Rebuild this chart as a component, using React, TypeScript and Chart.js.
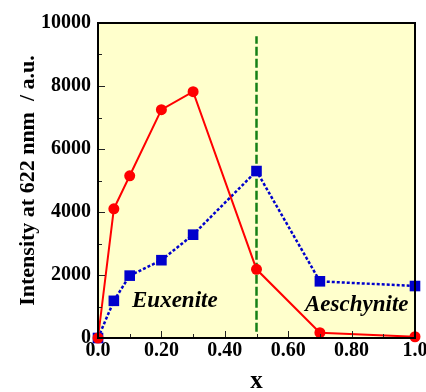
import React, { useEffect, useRef } from "react";
import { Chart, registerables } from "chart.js";

Chart.register(...registerables);

// Composition x and emission intensity at 622 nm
const xValues = [0, 0.05, 0.1, 0.2, 0.3, 0.5, 0.7, 1.0];
const euxeniteSeries = [0, 4100, 5150, 7250, 7820, 2180, 170, 40];
const aeschyniteSeries = [0, 1180, 1980, 2470, 3280, 5300, 1800, 1650];
const boundaryX = 0.5;
const boundaryRange = [200, 9580];
const xTickStep = 0.2;
const yTickStep = 2000;

const SERIF = "'Liberation Serif', 'Times New Roman', serif";

const framePlugin = {
  id: "frame",
  beforeDraw(chart: any) {
    const { ctx, chartArea: a } = chart;
    ctx.save();
    ctx.fillStyle = "#ffffff";
    ctx.fillRect(0, 0, chart.width, chart.height);
    ctx.fillStyle = "#ffffcc";
    ctx.fillRect(a.left, a.top, a.right - a.left, a.bottom - a.top);
    ctx.restore();
  },
  beforeDatasetsDraw(chart: any) {
    const { ctx, scales } = chart;
    const xs = scales.x;
    const ys = scales.y;
    ctx.save();
    // boundary line between the two phases
    ctx.strokeStyle = "#168016";
    ctx.lineWidth = 2.5;
    ctx.setLineDash([9, 3]);
    ctx.beginPath();
    const bx = xs.getPixelForValue(boundaryX);
    ctx.moveTo(bx, ys.getPixelForValue(boundaryRange[0]));
    ctx.lineTo(bx, ys.getPixelForValue(boundaryRange[1]));
    ctx.stroke();
    ctx.restore();
  },
  afterDatasetsDraw(chart: any) {
    const { ctx, chartArea: a, scales } = chart;
    const xs = scales.x;
    const ys = scales.y;
    ctx.save();
    ctx.strokeStyle = "#222222";
    ctx.lineWidth = 1;
    ctx.beginPath();
    // inward ticks on the left axis
    for (let v = 0; v <= 10000; v += 1000) {
      const y = Math.round(ys.getPixelForValue(v)) + 0.5;
      const len = v % 2000 === 0 ? 7 : 4;
      ctx.moveTo(a.left, y);
      ctx.lineTo(a.left + len, y);
    }
    // inward ticks on the bottom axis
    for (let i = 0; i <= 10; i++) {
      const x = Math.round(xs.getPixelForValue(i / 10)) + 0.5;
      const len = i % 2 === 0 ? 7 : 4;
      ctx.moveTo(x, a.bottom);
      ctx.lineTo(x, a.bottom - len);
    }
    ctx.stroke();

    ctx.lineWidth = 2;
    ctx.strokeStyle = "#000000";
    ctx.strokeRect(a.left, a.top, a.right - a.left, a.bottom - a.top);

    // phase labels
    ctx.fillStyle = "#000000";
    ctx.font = `italic bold 23px ${SERIF}`;
    ctx.textAlign = "left";
    ctx.textBaseline = "middle";
    ctx.fillText("Euxenite", 132, 301);
    ctx.fillText("Aeschynite", 305, 305);

    // axis titles
    ctx.font = `bold 22px ${SERIF}`;
    ctx.textAlign = "center";
    ctx.save();
    ctx.translate(28, (a.top + a.bottom) / 2);
    ctx.rotate(-Math.PI / 2);
    ctx.fillText("Intensity at 622 nnm  / a.u.", 0, 0);
    ctx.restore();
    ctx.font = `bold 25px ${SERIF}`;
    ctx.fillText("x", (a.left + a.right) / 2, 382);
    ctx.restore();
  },
};

export default function App() {
  const canvasRef = useRef<HTMLCanvasElement | null>(null);

  useEffect(() => {
    if (!canvasRef.current) return;
    const chart = new Chart(canvasRef.current, {
      type: "line",
      data: {
        datasets: [
          {
            label: "Euxenite",
            data: xValues.map((x, i) => ({ x, y: euxeniteSeries[i] })),
            borderColor: "#ff0000",
            backgroundColor: "#ff0000",
            borderWidth: 2,
            pointStyle: "circle",
            pointRadius: 5.5,
            pointBorderWidth: 0,
            tension: 0,
            clip: false,
          },
          {
            label: "Aeschynite",
            data: xValues.map((x, i) => ({ x, y: aeschyniteSeries[i] })),
            borderColor: "#0000cc",
            backgroundColor: "#0000cc",
            borderWidth: 2.5,
            borderDash: [3, 2],
            pointStyle: "rect",
            pointRadius: 7.5,
            pointBorderWidth: 0,
            tension: 0,
            clip: false,
          },
        ],
      },
      options: {
        animation: false,
        responsive: false,
        maintainAspectRatio: false,
        layout: { padding: { top: 23, right: 11, left: 0, bottom: 0 } },
        plugins: { legend: { display: false }, tooltip: { enabled: false } },
        scales: {
          x: {
            type: "linear",
            min: 0,
            max: 1,
            grid: { display: false, drawTicks: false },
            border: { display: false },
            ticks: {
              stepSize: xTickStep,
              padding: 1,
              color: "#000000",
              font: { family: SERIF, size: 20, weight: "bold" },
              callback: (v: any) =>
                v === 0 || v === 1 ? Number(v).toFixed(1) : Number(v).toFixed(2),
            },
            afterFit: (s: any) => {
              s.height = 54;
              s.paddingLeft = 0;
              s.paddingRight = 0;
            },
          },
          y: {
            type: "linear",
            min: 0,
            max: 10000,
            grid: { display: false, drawTicks: false },
            border: { display: false },
            ticks: {
              stepSize: yTickStep,
              padding: 7,
              color: "#000000",
              font: { family: SERIF, size: 20, weight: "bold" },
              callback: (v: any) => String(v),
            },
            afterFit: (s: any) => {
              s.width = 98;
              s.paddingTop = 0;
              s.paddingBottom = 0;
            },
          },
        },
      },
      plugins: [framePlugin],
    });
    return () => chart.destroy();
  }, []);

  return (
    <div style={{ position: "fixed", left: 0, top: 0, width: 426, height: 392 }}>
      <canvas ref={canvasRef} width={426} height={392} />
    </div>
  );
}
